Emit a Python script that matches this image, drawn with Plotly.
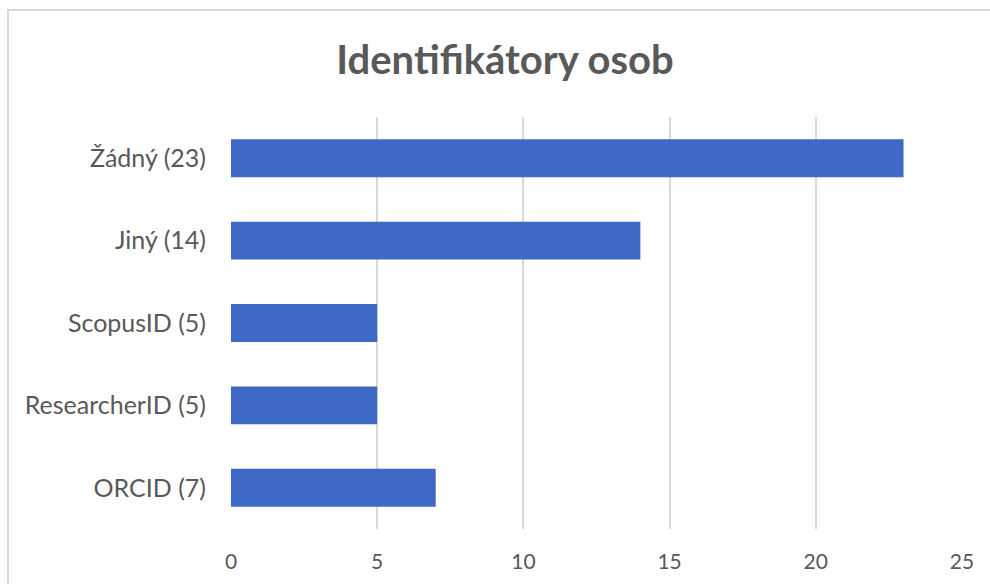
import plotly.graph_objects as go

categories = ["Žádný", "Jiný", "ScopusID", "ResearcherID", "ORCID"]
values = [23, 14, 5, 5, 7]
tick_vals = [0, 5, 10, 15, 20, 25]
title_text = "Identifikátory osob"

labels = [f"{c} ({v})" for c, v in zip(categories, values)]

W, H = 990, 584
L, R, T, B = 231, 962, 117, 529

fig = go.Figure()
fig.add_trace(go.Bar(
    x=values, y=labels, orientation="h",
    marker=dict(color="#3e69c5", line=dict(width=0)),
    width=0.46,
    hoverinfo="x+y",
))

pw = R - L
ph = B - T
fig.update_layout(
    width=W, height=H,
    margin=dict(l=L, r=W - R, t=T, b=H - B, pad=0),
    paper_bgcolor="white", plot_bgcolor="white",
    showlegend=False,
    font=dict(family="Lato, Open Sans, sans-serif", color="#595959"),
    title=dict(
        text=title_text, x=505 / W, xref="container", xanchor="center",
        y=1 - 60 / H, yref="container", yanchor="middle",
        font=dict(size=40, color="#595959", family="Lato, Open Sans, sans-serif", weight="bold"),
    ),
    xaxis=dict(
        range=[0, 25], tickvals=tick_vals, showgrid=True, gridcolor="#d9d9d9", gridwidth=1.5,
        zeroline=False, showline=False, ticks="", ticklabelstandoff=18,
        tickfont=dict(size=21, color="#595959"), fixedrange=True,
    ),
    yaxis=dict(
        autorange="reversed", showgrid=False, zeroline=False, showline=False, ticks="",
        ticklabelstandoff=24, tickfont=dict(size=25, color="#595959"), fixedrange=True,
    ),
    shapes=[dict(
        type="rect", xref="paper", yref="paper",
        x0=(8 - L) / pw, x1=(1010 - L) / pw,
        y0=(B - 600) / ph, y1=1 + (T - 10) / ph,
        line=dict(color="#d9d9d9", width=2), fillcolor="rgba(0,0,0,0)", layer="below",
    )],
)

fig.write_html("out.html")
